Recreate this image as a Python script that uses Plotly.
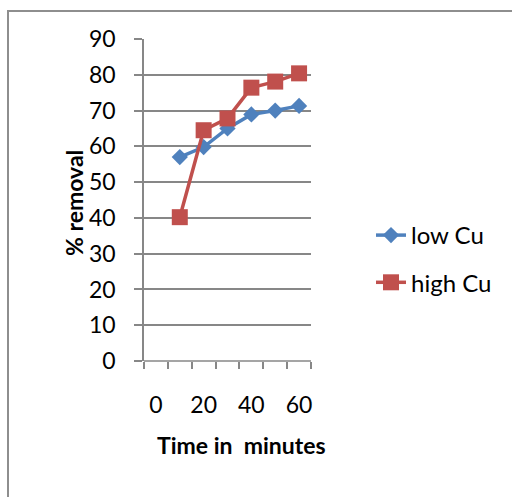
import plotly.graph_objects as go

# Data
time_min = [10, 20, 30, 40, 50, 60]
low_cu = [57.0, 59.8, 65.0, 68.9, 70.0, 71.3]
high_cu = [40.2, 64.5, 67.8, 76.4, 78.1, 80.4]

x_tick_labels = [0, 20, 40, 60]
y_ticks = list(range(0, 100, 10))

BLUE = "#4F81BD"
RED = "#C0504D"
GRID = "#878787"
FONT = "Lato"

W, H = 512, 497
L, R, T, B = 144, 311, 39, 361  # plot area in pixels

def px_x(p):
    return (p - L) / (R - L)

def px_y(p):
    return (B - p) / (B - T)

fig = go.Figure()
fig.add_trace(go.Scatter(
    x=time_min, y=low_cu, name="low Cu", mode="lines+markers",
    line=dict(color=BLUE, width=3.5),
    marker=dict(symbol="diamond", size=12.5, color=BLUE),
    legendgroup="a", cliponaxis=False,
))
fig.add_trace(go.Scatter(
    x=time_min, y=high_cu, name="high Cu", mode="lines+markers",
    line=dict(color=RED, width=3.5),
    marker=dict(symbol="square", size=16, color=RED),
    legendgroup="b", cliponaxis=False,
))

fig.update_layout(
    width=W, height=H,
    margin=dict(l=L, r=W - R, t=T, b=H - B, pad=0),
    paper_bgcolor="white", plot_bgcolor="white",
    font=dict(family=FONT, size=23, color="black"),
    showlegend=True,
    legend=dict(
        x=px_x(371), y=px_y(213), xanchor="left", yanchor="top",
        font=dict(family=FONT, size=24, color="black"),
        tracegroupgap=13, bgcolor="rgba(0,0,0,0)", borderwidth=0,
    ),
    xaxis=dict(
        range=[-5, 65], tickvals=x_tick_labels, ticks="", showgrid=False,
        zeroline=False, showline=False, ticklabelstandoff=28,
        tickfont=dict(family=FONT, size=23, color="black"),
        minor=dict(tickvals=[-5, 5, 15, 25, 35, 45, 55, 65], ticks="outside",
                   ticklen=7, tickwidth=1.5, tickcolor=GRID, showgrid=False),
        fixedrange=True,
    ),
    yaxis=dict(
        range=[0, 90], tickvals=y_ticks, ticks="outside", ticklen=8,
        tickwidth=1.5, tickcolor=GRID, showgrid=True, gridcolor=GRID,
        gridwidth=1.5, zeroline=False, showline=True, linecolor=GRID,
        linewidth=1.5, ticklabelstandoff=14,
        tickfont=dict(family=FONT, size=23, color="black"),
        fixedrange=True,
    ),
)

# bottom axis line
fig.add_shape(type="line", xref="paper", yref="paper", x0=0, x1=1, y0=0, y1=0,
              line=dict(color=GRID, width=1.5))

# chart-area border
fig.add_shape(type="rect", xref="paper", yref="paper",
              x0=px_x(8), x1=px_x(600), y0=px_y(600), y1=px_y(11),
              line=dict(color="#8E8E8E", width=2), fillcolor="rgba(0,0,0,0)",
              layer="below")

# axis titles
fig.add_annotation(text="<b>Time in  minutes</b>", xref="paper", yref="paper",
                   x=px_x(241), y=px_y(461), showarrow=False,
                   font=dict(family=FONT, size=23, color="black"))
fig.add_annotation(text="<b>% removal</b>", xref="paper", yref="paper",
                   x=px_x(58), y=px_y(203), showarrow=False, textangle=-90,
                   font=dict(family=FONT, size=23, color="black"))

fig.write_html("out.html")
